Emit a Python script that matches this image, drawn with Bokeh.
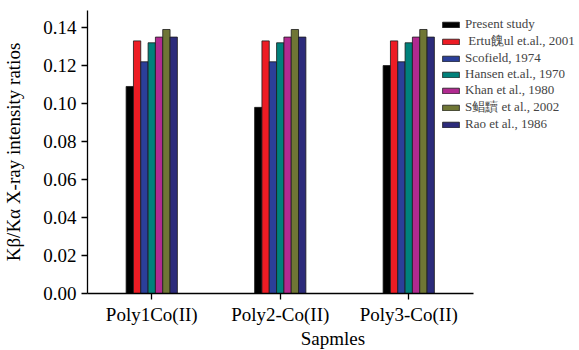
from bokeh.plotting import figure
from bokeh.models import (Range1d, Legend, LegendItem, FixedTicker, NumeralTickFormatter)
from bokeh.transform import dodge
from bokeh.embed import file_html
from bokeh.resources import INLINE

samples = ["Poly1Co(II)", "Poly2-Co(II)", "Poly3-Co(II)"]
series_names = ["Present study", " Ertu餽ul et.al., 2001", "Scofield, 1974",
                "Hansen et.al., 1970", "Khan et al., 1980", "S鲳黷 et al., 2002",
                "Rao et al., 1986"]
present_study = [0.109, 0.098, 0.120]
ertugrul_2001 = [0.133, 0.133, 0.133]
scofield_1974 = [0.122, 0.122, 0.122]
hansen_1970 = [0.132, 0.132, 0.132]
khan_1980 = [0.135, 0.135, 0.135]
s_2002 = [0.139, 0.139, 0.139]
rao_1986 = [0.135, 0.135, 0.135]
series_values = [present_study, ertugrul_2001, scofield_1974, hansen_1970,
                 khan_1980, s_2002, rao_1986]
colors = ["#000000", "#ED1C24", "#2B3F99", "#00817B", "#B12A90", "#6F7635", "#2C2B7B"]
y_ticks = [0.00, 0.02, 0.04, 0.06, 0.08, 0.10, 0.12, 0.14]

FONT = "Liberation Serif"
FW, FH = 491, 283
Y_MAX = 0.149
UNIT_PX = 128.5          # pixel width of one sample slot
n = len(samples)
x_pos = [i + 0.5 for i in range(n)]   # slot centres on the x scale

p = figure(frame_width=FW, frame_height=FH, x_range=Range1d(0, FW / UNIT_PX),
           y_range=Range1d(0, Y_MAX), output_backend="svg", toolbar_location=None,
           min_border_left=84, min_border_right=2, min_border_top=10, min_border_bottom=54)
p.outline_line_color = None
p.xgrid.grid_line_color = None
p.ygrid.grid_line_color = None

bar_w = 0.057
items = []
for i, (name, vals, c) in enumerate(zip(series_names, series_values, colors)):
    data = {"pos": x_pos, "val": vals}
    r = p.vbar(x=dodge("pos", (i - 3) * bar_w), top="val",
               width=bar_w, source=data, fill_color=c, line_color="#1a1a1a",
               line_width=0.8)
    items.append(LegendItem(label=name, renderers=[r]))

legend = Legend(items=items, location=(353, 161), padding=0, margin=0,
                spacing=0, glyph_width=21, glyph_height=7, label_height=11,
                label_standoff=4, label_text_font=FONT, label_text_font_size="13px",
                label_text_line_height=0.85,
                border_line_color=None, background_fill_alpha=0)
p.add_layout(legend, "center")

for ax in (p.xaxis[0], p.yaxis[0]):
    ax.axis_line_color = "black"
    ax.axis_line_width = 1.3
    ax.major_tick_line_color = "black"
    ax.major_tick_line_width = 1.3
    ax.major_tick_out = 6
    ax.major_tick_in = 0
    ax.minor_tick_line_color = None
    ax.major_label_text_font = FONT
    ax.major_label_text_font_size = "19px"
    ax.major_label_text_color = "black"
    ax.axis_label_text_font = FONT
    ax.axis_label_text_font_size = "19px"
    ax.axis_label_text_font_style = "normal"
    ax.axis_label_text_color = "black"

p.yaxis.ticker = FixedTicker(ticks=y_ticks)
p.yaxis.formatter = NumeralTickFormatter(format="0.00")
p.yaxis.major_label_standoff = 5
p.yaxis.axis_label = "Kβ/Kα X-ray intensity ratios"
p.yaxis.axis_label_standoff = 16

p.xaxis.ticker = FixedTicker(ticks=x_pos)
p.xaxis.major_label_overrides = {x: s for x, s in zip(x_pos, samples)}
p.xaxis.bounds = (0, n)
p.xaxis.major_label_standoff = 4
p.xaxis.axis_label = "Sapmles"
p.xaxis.axis_label_standoff = 0

open("out.html", "w").write(file_html(p, INLINE))
